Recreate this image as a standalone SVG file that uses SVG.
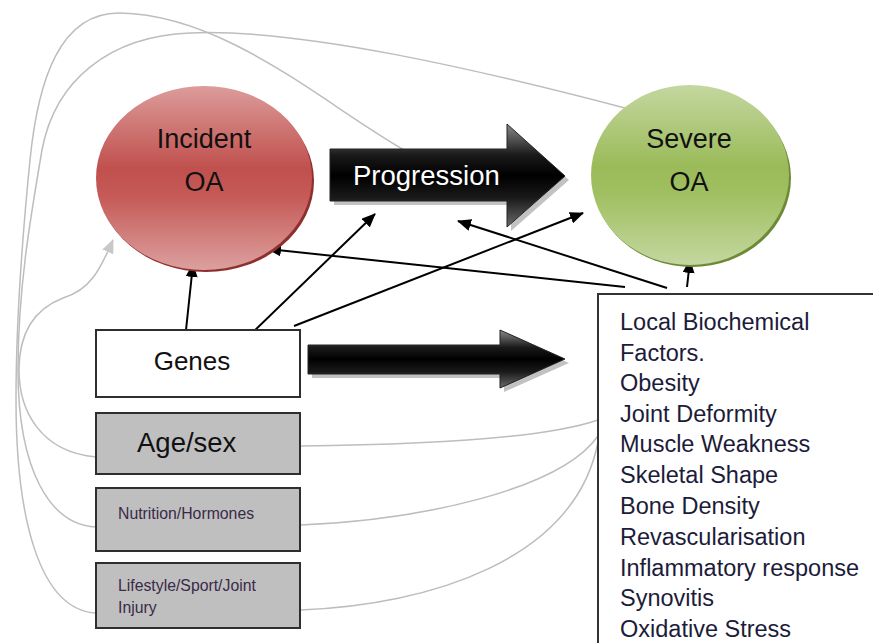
<svg xmlns="http://www.w3.org/2000/svg" width="873" height="643" viewBox="0 0 873 643">
<style>
.t{font-family:"Liberation Sans",Arial,sans-serif;}
.gray{fill:none;stroke:#bdbdbd;stroke-width:1.5;}
.blk{fill:none;stroke:#000;stroke-width:2;marker-end:url(#ah);}
.box{stroke:#2e2e2e;stroke-width:2;}
.list{font-family:"Liberation Sans",Arial,sans-serif;font-size:23.5px;fill:#1c1c3a;}
.small{font-family:"Liberation Sans",Arial,sans-serif;font-size:15.8px;fill:#3a2a48;}
</style>
<defs>
<marker id="ah" viewBox="0 0 14 12" refX="13" refY="6" markerWidth="14" markerHeight="12" markerUnits="userSpaceOnUse" orient="auto">
<path d="M0,0 L14,6 L0,12 Z" fill="#000"/>
</marker>
<marker id="ahg" viewBox="0 0 14 12" refX="13" refY="6" markerWidth="14" markerHeight="12" markerUnits="userSpaceOnUse" orient="auto">
<path d="M0,0 L14,6 L0,12 Z" fill="#c8c8c8"/>
</marker>
<linearGradient id="red" x1="0" y1="0" x2="0" y2="1">
<stop offset="0" stop-color="#dc9c9a"/>
<stop offset="0.45" stop-color="#c0504d"/>
<stop offset="0.6" stop-color="#c55a57"/>
<stop offset="1" stop-color="#dca09e"/>
</linearGradient>
<linearGradient id="green" x1="0" y1="0" x2="0" y2="1">
<stop offset="0" stop-color="#c4d7a0"/>
<stop offset="0.45" stop-color="#9bbb59"/>
<stop offset="0.6" stop-color="#a0bf60"/>
<stop offset="1" stop-color="#c4d7a0"/>
</linearGradient>
<linearGradient id="blackg" x1="0" y1="0" x2="0" y2="1">
<stop offset="0" stop-color="#8a8a8a"/>
<stop offset="0.3" stop-color="#1a1a1a"/>
<stop offset="0.5" stop-color="#000"/>
<stop offset="0.72" stop-color="#1a1a1a"/>
<stop offset="1" stop-color="#6a6a6a"/>
</linearGradient>
</defs>

<g id="connectors">
<path class="gray" d="M413,155 C330,110 230,15 120,13 C60,12 38,80 30,160 C22,240 16,320 16,400 C16,520 40,610 96,613"/>
<path class="gray" d="M625,108 C480,70 300,28 190,33 C110,36 55,80 42,150 C30,220 18,290 18,370 C18,470 50,525 96,527"/>
<path class="gray" d="M96,457 C40,452 19,410 19,370 C19,335 32,310 63,298 C90,290 100,270 113,240" stroke="#c8c8c8" marker-end="url(#ahg)"/>
<path class="gray" d="M300,446 C400,445 540,440 598,420"/>
<path class="gray" d="M300,525 C420,520 560,490 598,436"/>
<path class="gray" d="M300,610 C430,605 575,560 598,442"/>
<path class="blk" d="M186,330 L193,264"/>
<path class="blk" d="M250,335 L375,214"/>
<path class="blk" d="M294,326 L583,213"/>
<path class="blk" d="M625,287 L268,249"/>
<path class="blk" d="M667,288 L458,221"/>
<path class="blk" d="M687,287 L690,260"/>
</g>

<g id="incident-oa">
<ellipse cx="206" cy="181" rx="108" ry="91" fill="#8e2f2d"/>
<ellipse cx="204" cy="178" rx="108" ry="92" fill="url(#red)"/>
<text class="t" x="204" y="148" font-size="27" text-anchor="middle" fill="#111">Incident</text>
<text class="t" x="204" y="191" font-size="27" text-anchor="middle" fill="#111">OA</text>
</g>

<g id="severe-oa">
<ellipse cx="692" cy="178" rx="99" ry="89" fill="#6e8a35"/>
<ellipse cx="690" cy="175" rx="99" ry="90" fill="url(#green)"/>
<text class="t" x="689" y="148" font-size="27" text-anchor="middle" fill="#111">Severe</text>
<text class="t" x="689" y="191" font-size="27" text-anchor="middle" fill="#111">OA</text>
</g>

<g id="progression">
<path d="M334,153 L511,153 L511,128 L569,180 L511,231 L511,205 L334,205 Z" fill="#9a9a9a" opacity="0.6"/>
<path d="M330,149 L507,149 L507,124 L565,176 L507,227 L507,201 L330,201 Z" fill="url(#blackg)" stroke="#222" stroke-width="1"/>
<text class="t" x="353" y="185" font-size="27.5" fill="#fff">Progression</text>
</g>

<g id="genes-arrow">
<path d="M312,349 L504,349 L504,334 L569,363 L504,392 L504,378 L312,378 Z" fill="#9a9a9a" opacity="0.6"/>
<path d="M308,345 L500,345 L500,330 L565,359 L500,388 L500,374 L308,374 Z" fill="url(#blackg)" stroke="#222" stroke-width="1"/>
</g>

<g id="genes">
<rect class="box" x="96" y="330" width="204" height="67" fill="#fff"/>
<text class="t" x="192" y="370" font-size="26" text-anchor="middle" fill="#111">Genes</text>
</g>

<g id="age-sex">
<rect class="box" x="96" y="413" width="204" height="61" fill="#bfbfbf"/>
<text class="t" x="137" y="452" font-size="27.5" fill="#111">Age/sex</text>
</g>

<g id="nutrition">
<rect class="box" x="96" y="488" width="204" height="63" fill="#bfbfbf"/>
<text class="small" x="118" y="519">Nutrition/Hormones</text>
</g>

<g id="lifestyle">
<rect class="box" x="96" y="563" width="204" height="65" fill="#bfbfbf"/>
<text class="small" x="118" y="591">Lifestyle/Sport/Joint</text>
<text class="small" x="118" y="613">Injury</text>
</g>

<g id="local-factors">
<rect x="598" y="294" width="290" height="360" fill="#fff" stroke="#333" stroke-width="2"/>
<text class="list" x="620" y="330">Local Biochemical</text>
<text class="list" x="620" y="361">Factors.</text>
<text class="list" x="620" y="391">Obesity</text>
<text class="list" x="620" y="422">Joint Deformity</text>
<text class="list" x="620" y="452">Muscle Weakness</text>
<text class="list" x="620" y="483">Skeletal Shape</text>
<text class="list" x="620" y="514">Bone Density</text>
<text class="list" x="620" y="545">Revascularisation</text>
<text class="list" x="620" y="576">Inflammatory response</text>
<text class="list" x="620" y="606">Synovitis</text>
<text class="list" x="620" y="637">Oxidative Stress</text>
</g>
</svg>
